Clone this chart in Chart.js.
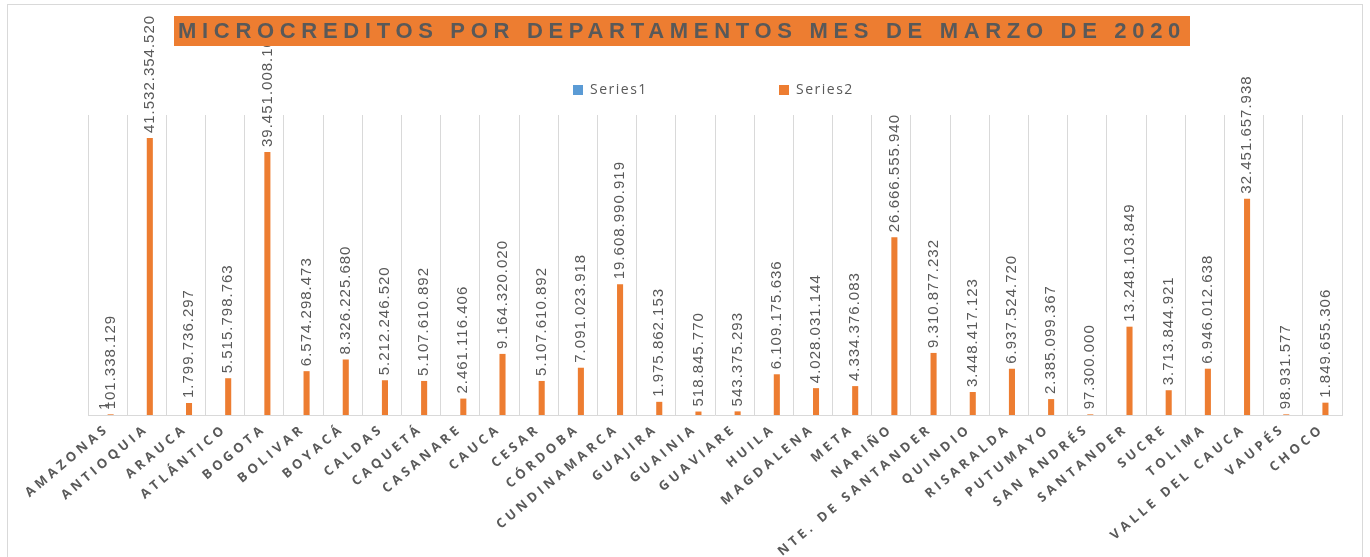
<!doctype html>
<html lang="es">
  <head>
    <meta charset="utf-8">
    <title>Microcreditos por departamentos</title>
    <script src="https://cdn.jsdelivr.net/npm/chart.js@4.4.0/dist/chart.umd.min.js"></script>
    <style>
        body { margin: 0; background: #fff; }
        #chart { display: block; }
    </style>
  </head>
  <body>
    <canvas id="chart" width="1370" height="557"></canvas>

    <script>
        const title = 'MICROCREDITOS POR DEPARTAMENTOS MES DE MARZO DE 2020'

        const departamentos = [
            'AMAZONAS', 'ANTIOQUIA', 'ARAUCA', 'ATLÁNTICO', 'BOGOTA', 'BOLIVAR', 'BOYACÁ', 'CALDAS',
            'CAQUETÁ', 'CASANARE', 'CAUCA', 'CESAR', 'CÓRDOBA', 'CUNDINAMARCA', 'GUAJIRA', 'GUAINIA',
            'GUAVIARE', 'HUILA', 'MAGDALENA', 'META', 'NARIÑO', 'NTE. DE SANTANDER', 'QUINDIO', 'RISARALDA',
            'PUTUMAYO', 'SAN ANDRÉS', 'SANTANDER', 'SUCRE', 'TOLIMA', 'VALLE DEL CAUCA', 'VAUPÉS', 'CHOCO'
        ]

        // Series1 only has the "1" next to Amazonas
        const series1 = [1]

        const series2 = [
            101338129, 41532354520, 1799736297, 5515798763, 39451008100, 6574298473, 8326225680, 5212246520,
            5107610892, 2461116406, 9164320020, 5107610892, 7091023918, 19608990919, 1975862153, 518845770,
            543375293, 6109175636, 4028031144, 4334376083, 26666555940, 9310877232, 3448417123, 6937524720,
            2385099367, 97300000, 13248103849, 3713844921, 6946012638, 32451657938, 98931577, 1849655306
        ]

        const yMax = 45000000000

        function fmt(v) {
            return v.toString().replace(/\B(?=(\d{3})+(?!\d))/g, '.')
        }

        const tickSpacing = '3.8px'

        const decor = {
            id: 'decor',
            beforeUpdate(chart) {
                chart.ctx.letterSpacing = tickSpacing // spaced axis labels
            },
            beforeDraw(chart) {
                const ctx = chart.ctx
                ctx.save()
                ctx.fillStyle = '#fff'
                ctx.fillRect(0, 0, chart.width, chart.height)
                ctx.strokeStyle = '#d9d9d9'
                ctx.lineWidth = 1
                ctx.strokeRect(7.5, 4.5, chart.width - 15, chart.height + 10)
                ctx.restore()
                ctx.letterSpacing = tickSpacing
            },
            afterDatasetsDraw(chart) {
                const ctx = chart.ctx
                ctx.save()
                ctx.letterSpacing = '1px'
                ctx.font = '15px "Liberation Sans"'
                ctx.fillStyle = '#595959'
                ctx.textAlign = 'left'
                ctx.textBaseline = 'middle'
                chart.data.datasets.forEach((ds, i) => {
                    chart.getDatasetMeta(i).data.forEach((bar, j) => {
                        const v = ds.data[j]
                        if (v == null) return
                        ctx.save()
                        ctx.translate(bar.x, bar.y - 5)
                        ctx.rotate(-Math.PI / 2)
                        ctx.fillText(fmt(v), 0, 0)
                        ctx.restore()
                    })
                })
                ctx.restore()
            },
            afterDraw(chart) {
                const ctx = chart.ctx
                ctx.save()

                // legend
                const cx = (chart.chartArea.left + chart.chartArea.right) / 2
                const xs = [cx - 142, cx + 64]
                ctx.font = '14px "Open Sans"'
                ctx.letterSpacing = '1.5px'
                ctx.textAlign = 'left'
                ctx.textBaseline = 'middle'
                chart.data.datasets.forEach((ds, i) => {
                    ctx.fillStyle = ds.backgroundColor
                    ctx.fillRect(xs[i], 85, 10, 10)
                    ctx.fillStyle = '#595959'
                    ctx.fillText(ds.label, xs[i] + 17, 90)
                })

                // title in orange box
                ctx.fillStyle = '#ED7D31'
                ctx.fillRect(174, 16, 1016, 30)
                ctx.font = 'bold 22px "Liberation Sans"'
                ctx.letterSpacing = '0px'
                const w0 = ctx.measureText(title).width
                ctx.letterSpacing = ((1008 - w0) / title.length) + 'px'
                ctx.fillStyle = '#595959'
                ctx.fillText(title, 178, 32)
                ctx.restore()
            }
        }

        new Chart(document.getElementById('chart'), {
            type: 'bar',
            data: {
                labels: departamentos,
                datasets: [
                    {
                        label: 'Series1',
                        data: series1,
                        backgroundColor: '#5B9BD5',
                        categoryPercentage: 0.31,
                        barPercentage: 1
                    },
                    {
                        label: 'Series2',
                        data: series2,
                        backgroundColor: '#ED7D31',
                        categoryPercentage: 0.31,
                        barPercentage: 1
                    }
                ]
            },
            options: {
                responsive: false,
                animation: false,
                layout: { padding: { left: 88, right: 28, top: 115, bottom: 0 } },
                plugins: {
                    legend: { display: false },
                    tooltip: { enabled: false }
                },
                scales: {
                    x: {
                        grid: { color: '#d9d9d9', drawTicks: false, offset: true },
                        border: { color: '#d9d9d9' },
                        ticks: {
                            color: '#595959',
                            font: { family: 'Open Sans', size: 13, weight: 'bold' },
                            minRotation: 40,
                            maxRotation: 40,
                            autoSkip: false,
                            padding: 6
                        },
                        afterFit(scale) { scale.height = 142 }
                    },
                    y: { display: false, min: 0, max: yMax }
                }
            },
            plugins: [decor]
        })
    </script>
  </body>
</html>
